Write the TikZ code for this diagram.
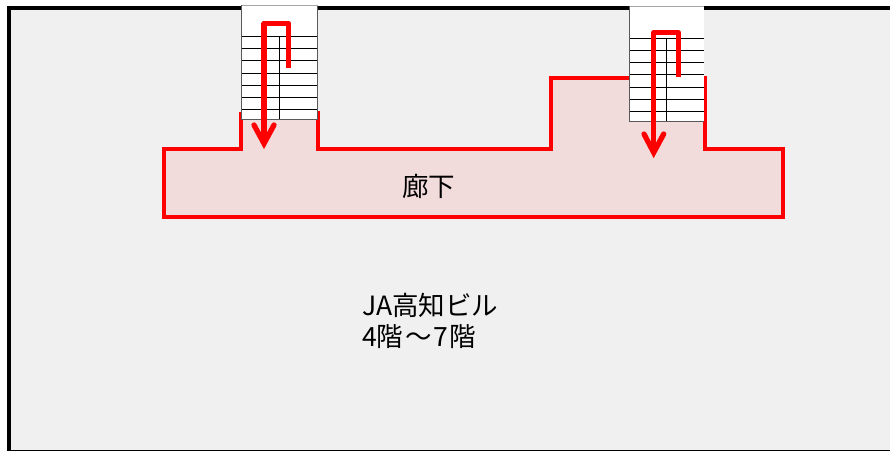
\documentclass[tikz,border=0pt]{standalone}
\usepackage{fontspec}
\setmainfont{Noto Sans CJK JP}
\definecolor{floorgray}{RGB}{240,240,240}
\definecolor{corridorpink}{RGB}{242,220,219}
\tikzset{
  redline/.style={draw=red,line width=3.8pt,line join=miter},
  flowline/.style={draw=red,line width=5.3pt,line join=round},
  headline/.style={draw=red,line width=5.3pt,line cap=round,line join=miter},
  treadline/.style={draw=black,line width=0.85pt},
  label/.style={inner sep=0pt,anchor=west,font=\fontsize{26.5}{28}\selectfont}
}
\begin{document}
\begin{tikzpicture}[x=1pt,y=-1pt]
\useasboundingbox (0,0) rectangle (890,451);
\fill[white] (0,0) rectangle (890,451);
\fill[black] (7,6) rectangle (890,451);
\fill[floorgray] (11,10) rectangle (890,450);
% corridor
\fill[corridorpink] (164,149) -- (241,149) -- (241,112) -- (318,112) -- (318,149) -- (551,149) -- (551,78) -- (705,78) -- (705,149) -- (783,149) -- (783,217) -- (164,217) -- cycle;
\draw[redline] (241,112) -- (241,149) -- (164,149) -- (164,217) -- (783,217) -- (783,149) -- (705,149) -- (705,76);
\draw[redline] (318,111) -- (318,149) -- (551,149) -- (551,78) -- (630,78);
% stair 1
\fill[white] (241.5,5) rectangle (317.5,119.5);
\foreach \yy in {36,48,60,73,85,97,109}{\draw[treadline] (241.5,\yy) -- (317.5,\yy);}
\draw[treadline] (279.5,36) -- (279.5,119.5);
\draw[draw=black!65,line width=1pt] (241.5,5) -- (241.5,119.5) -- (317.5,119.5) -- (317.5,5);
\draw[draw=black!35,line width=1pt] (241.5,5) -- (317.5,5);
\draw[flowline] (288.7,68) -- (288.7,23.3) -- (264,23.3) -- (264,140);
\draw[headline] (254,125) -- (264,143.5) -- (274,125);
% stair 2
\fill[white] (629,6) rectangle (703.5,121.5);
\foreach \yy in {38.3,50.3,62.3,74.3,87.3,99.3,111.3}{\draw[treadline] (629.5,\yy) -- (703.5,\yy);}
\draw[treadline] (666.7,38.3) -- (666.7,121.5);
\draw[draw=black!65,line width=1pt] (629.5,6) -- (629.5,121.5) -- (703.5,121.5);
\draw[draw=black!35,line width=1pt] (629.5,6) -- (703.5,6);
\draw[flowline] (678.3,77) -- (678.3,32.5) -- (653.7,32.5) -- (653.7,149);
\draw[headline] (644,134) -- (653.7,152.5) -- (663.7,134);
% labels
\node[label] (corridor) at (402,186) {廊下};
\node[label] (bldg) at (362,305) {JA高知ビル};
\node[label] (floors) at (362,337) {4階\hspace{2pt}〜\hspace{2pt}7\hspace{1pt}階};
\end{tikzpicture}
\end{document}
